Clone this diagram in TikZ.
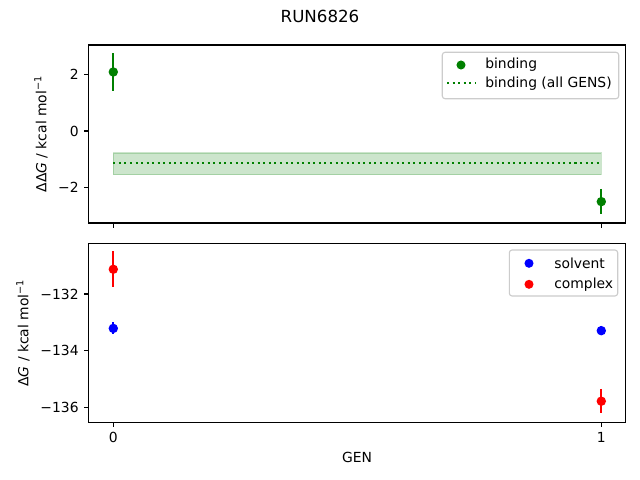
\documentclass[tikz,border=0pt]{standalone}
\usepackage{fontspec}
\setmainfont{DejaVu Sans}
\usetikzlibrary{positioning}
\definecolor{mplgreen}{RGB}{0,128,0}
\definecolor{mplblue}{RGB}{0,0,255}
\definecolor{mplred}{RGB}{255,0,0}
\tikzset{
  spine/.style = {line width = 0.8pt},
  ticklabel/.style = {font = \fontsize{10}{12}\selectfont, inner sep = 0pt},
  errbar/.style = {line width = 1.5pt},
  dotmark/.style = {circle, fill, inner sep = 0pt, minimum size = 6.8pt},
  legendbox/.style = {draw = black!20, fill = white, fill opacity = .8, rounded corners = 2pt, line width = 0.8pt},
  allgens/.style = {mplgreen, line width = 1.5pt, dash pattern = on 1.5pt off 2.5pt}
}
\begin{document}
\begin{tikzpicture}[x = .72pt, y = -.72pt, every node/.style = {font = \fontsize{10}{12}\selectfont}]
  \fill[white] (0,0) rectangle (640,480);
  \useasboundingbox (0,0) rectangle (640,480);
  \node (title) at (320,16) {\fontsize{12}{14}\selectfont RUN6826};

  % top panel: binding
  \begin{scope}[shift = {(113.3,131)}, x = 351.36pt, y = 20.34pt]
    \fill[mplgreen, fill opacity = .2] (0,-.78) rectangle (1,-1.55);
    \draw[mplgreen, opacity = .2, line width = 1pt] (0,-.78) rectangle (1,-1.55);
    \draw[allgens] (0,-1.12) -- (1,-1.12);
    \draw[errbar, mplgreen] (0,2.75) -- (0,1.43);
    \node[dotmark, mplgreen] (b0) at (0,2.09) {};
    \draw[errbar, mplgreen] (1,-2.05) -- (1,-2.95);
    \node[dotmark, mplgreen] (b1) at (1,-2.5) {};
    \draw[spine] (-.05,-3.257) rectangle (1.05,3.044);
    \foreach \v/\t in {2/2, 0/0, -2/−2}
      \draw[spine] (-.05,\v) -- ++(-3.5pt,0) node[left = 3.5pt, ticklabel] (ty\v) {\t};
    \foreach \g in {0,1}
      \draw[spine] (\g,-3.257) -- ++(0,-3.5pt);
  \end{scope}
  \node[rotate = 90] (ylabtop) at (41,134) {ΔΔ\textit{G} / kcal mol\textsuperscript{−1}};

  % legend top
  \draw[legendbox] (442.3,52.3) rectangle (618.7,98.7);
  \node[dotmark, mplgreen, minimum size = 6.5pt] (lbind) at (461,65) {};
  \node[anchor = west, inner sep = 0pt] (tbind) at (485,65) {binding};
  \coordinate (lall0) at (447,83.3);
  \coordinate (lall1) at (475,83.3);
  \draw[allgens] (lall0) -- (lall1);
  \node[anchor = west, inner sep = 0pt] (tall) at (485,83.3) {binding (all GENS)};

  % bottom panel: solvent and complex
  \begin{scope}[shift = {(113.3,294)}, x = 351.36pt, y = 20.47pt]
    \draw[errbar, mplred] (0,1.51) -- (0,.26);
    \node[dotmark, mplred] (c0) at (0,.87) {};
    \draw[errbar, mplblue] (0,-1.0) -- (0,-1.42);
    \node[dotmark, mplblue] (s0) at (0,-1.21) {};
    \draw[errbar, mplblue] (1,-1.14) -- (1,-1.44);
    \node[dotmark, mplblue] (s1) at (1,-1.29) {};
    \draw[errbar, mplred] (1,-3.34) -- (1,-4.2);
    \node[dotmark, mplred] (c1) at (1,-3.77) {};
    \draw[spine] (-.05,-4.51) rectangle (1.05,1.783);
    \foreach \v/\t in {0/−132, -2/−134, -4/−136}
      \draw[spine] (-.05,\v) -- ++(-3.5pt,0) node[left = 3.5pt, ticklabel] (tb\t) {\t};
    \foreach \g in {0,1}
      \draw[spine] (\g,-4.51) -- ++(0,-3.5pt) node[below = 3.5pt, ticklabel] (tx\g) {\g};
  \end{scope}
  \node[rotate = 90] (ylabbot) at (23,333) {Δ\textit{G} / kcal mol\textsuperscript{−1}};
  \node (xlab) at (357,457) {GEN};

  % legend bottom
  \draw[legendbox] (509.3,250) rectangle (617.7,296);
  \node[dotmark, mplblue, minimum size = 6.5pt] (lsolv) at (529,263.3) {};
  \node[anchor = west, inner sep = 0pt] (tsolv) at (554,263.3) {solvent};
  \node[dotmark, mplred, minimum size = 6.5pt] (lcomp) at (529,284.3) {};
  \node[anchor = west, inner sep = 0pt] (tcomp) at (554,284.3) {complex};
\end{tikzpicture}
\end{document}
